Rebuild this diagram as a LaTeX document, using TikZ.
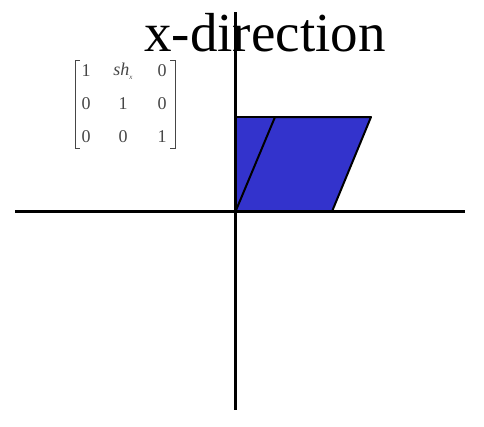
\documentclass[tikz,border=0pt]{standalone}
\usepackage{fontspec}
\setmainfont{Liberation Serif}
\definecolor{shapeblue}{RGB}{51,51,204}
\definecolor{matgray}{RGB}{70,70,70}
\begin{document}
\begin{tikzpicture}[x=1pt,y=-1pt,
  axis/.style={line width=3.5pt,black},
  shapeedge/.style={line width=2pt,black,line join=round},
  entry/.style={inner sep=0pt,text=matgray,font=\fontsize{18}{18}\selectfont},
  bracket/.style={line width=0.8pt,matgray}]
\useasboundingbox (0,0) rectangle (484,426);
% axes
\coordinate (xl) at (15,211.5);
\coordinate (xr) at (465,211.5);
\coordinate (yt) at (235.5,12);
\coordinate (yb) at (235.5,410);
% shape vertices
\coordinate (o) at (235.5,211.5);
\coordinate (sq) at (235.5,117);
\coordinate (tl) at (275,117);
\coordinate (tr) at (371,117);
\coordinate (br) at (332,211.5);
\fill[shapeblue] (o) -- (sq) -- (tr) -- (br) -- cycle;
\draw[shapeedge] (o) -- (tl) -- (tr) -- (br) -- cycle;
\draw[shapeedge] (sq) -- (tl);
\draw[axis] (xl) -- (xr);
\draw[axis] (yt) -- (yb);
% title
\node[inner sep=0pt,anchor=base,text depth=0pt,font=\fontsize{55}{55}\selectfont] (title) at (265,51) {x-direction};
% matrix
\node[entry] (m11) at (86,71) {1};
\node[entry] (m12) at (123,71) {\textit{sh}\raisebox{-4pt}{\fontsize{7}{7}\selectfont\textit{x}}};
\node[entry] (m13) at (162,71) {0};
\node[entry] (m21) at (86,103.5) {0};
\node[entry] (m22) at (123,103.5) {1};
\node[entry] (m23) at (162,103.5) {0};
\node[entry] (m31) at (86,137) {0};
\node[entry] (m32) at (123,137) {0};
\node[entry] (m33) at (162,137) {1};
\coordinate (lbt) at (75,60);
\coordinate (lbb) at (75,148);
\coordinate (rbt) at (175,60);
\coordinate (rbb) at (175,148);
\draw[bracket] ([xshift=5pt]lbt) -- (lbt) -- (lbb) -- ([xshift=5pt]lbb);
\draw[bracket] ([xshift=-5pt]rbt) -- (rbt) -- (rbb) -- ([xshift=-5pt]rbb);
\end{tikzpicture}
\end{document}
